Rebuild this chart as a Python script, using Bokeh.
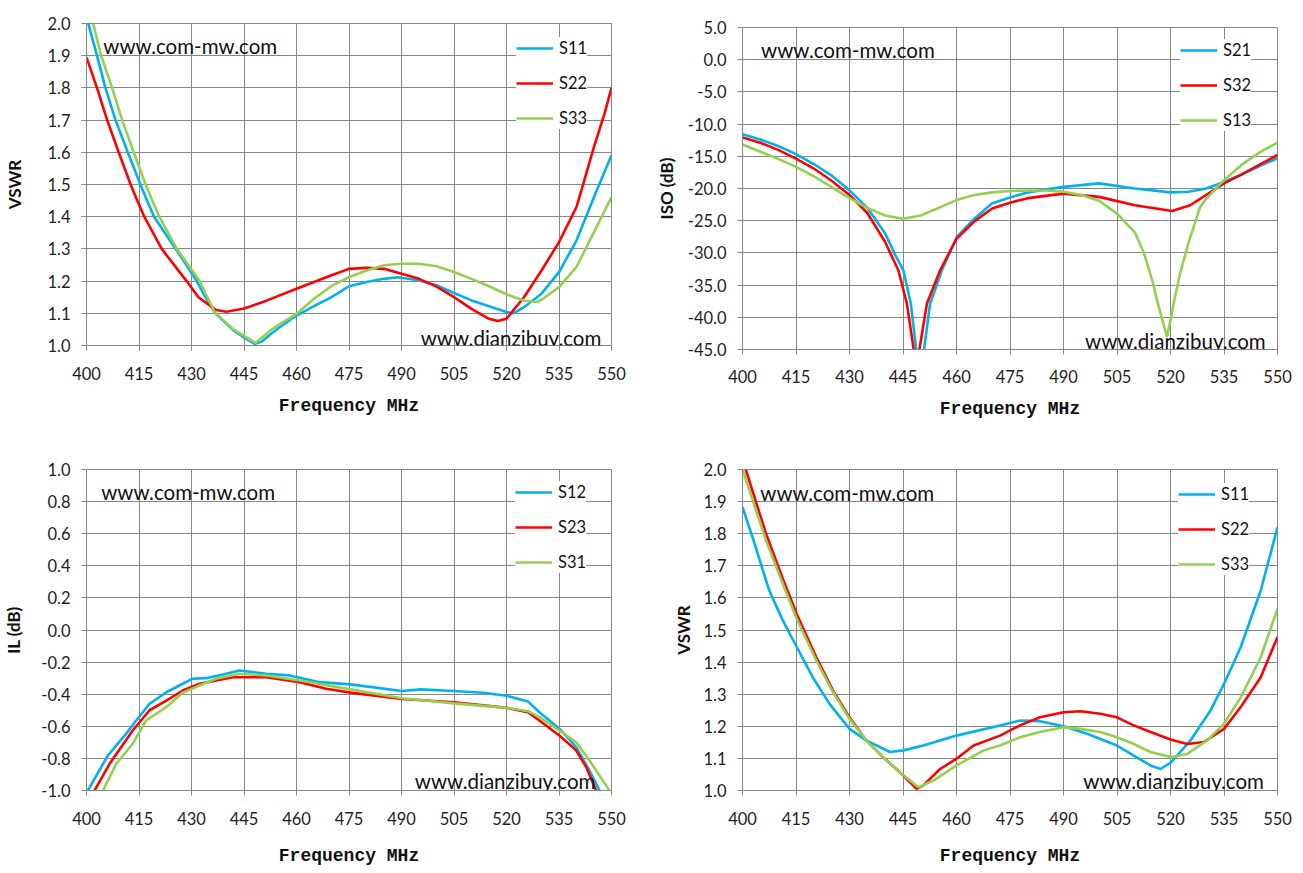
from bokeh.plotting import figure
from bokeh.layouts import column, row
from bokeh.models import (Range1d, FixedTicker, NumeralTickFormatter, Legend,
                          LegendItem, Label)
from bokeh.embed import file_html
from bokeh.resources import INLINE

# ---------------- tick labels ----------------
X_TICKS = [400, 415, 430, 445, 460, 475, 490, 505, 520, 535, 550]
VSWR_TICKS = [1.0, 1.1, 1.2, 1.3, 1.4, 1.5, 1.6, 1.7, 1.8, 1.9, 2.0]
ISO_TICKS = [-45, -40, -35, -30, -25, -20, -15, -10, -5, 0, 5]
IL_TICKS = [-1.0, -0.8, -0.6, -0.4, -0.2, 0.0, 0.2, 0.4, 0.6, 0.8, 1.0]

# ---------------- top-left: VSWR ----------------
TL_F_S11 = [400.5, 403, 405.4, 408.3, 411.8, 415.4, 417.3, 419.3, 425.5, 431.5, 434, 436.8,
            442, 445, 448, 450, 452.6, 455, 460, 465, 470, 475, 480, 485, 489, 495, 500,
            505, 510, 515, 520, 522, 525, 530, 535, 540, 545, 550]
TL_S11 = [2.0, 1.9, 1.8, 1.7, 1.6, 1.5, 1.45, 1.4, 1.3, 1.2, 1.15, 1.10,
          1.047, 1.025, 1.005, 1.012, 1.035, 1.055, 1.093, 1.122, 1.150, 1.184, 1.197, 1.207,
          1.212, 1.202, 1.187, 1.163, 1.140, 1.122, 1.104, 1.100, 1.119, 1.161, 1.228, 1.326,
          1.461, 1.591]
TL_F_S22 = [400, 403, 405.9, 409.2, 412.6, 414.5, 416.5, 421.5, 428.6, 432, 437, 440, 445,
            447, 451.6, 455, 460, 465, 470, 475, 480, 485, 490, 495, 500, 505, 510, 515,
            517.5, 520, 525, 530, 535, 540, 545, 548, 550]
TL_S22 = [1.895, 1.8, 1.7, 1.6, 1.5, 1.45, 1.4, 1.3, 1.2, 1.15, 1.11, 1.105, 1.115,
          1.122, 1.14, 1.155, 1.176, 1.197, 1.218, 1.238, 1.241, 1.238, 1.223, 1.207, 1.183,
          1.150, 1.114, 1.083, 1.076, 1.083, 1.150, 1.233, 1.321, 1.43, 1.617, 1.72, 1.80]
TL_F_S33 = [401.9, 404.2, 407.3, 410.2, 413.5, 416.9, 418.8, 420.8, 425.8, 432.3, 434.5,
            436.8, 442, 445, 448.3, 452.6, 455, 460, 465, 470, 475, 480, 485, 490, 495, 500,
            505, 510, 515, 520, 525, 528.4, 530, 535, 540, 545, 550]
TL_S33 = [2.0, 1.9, 1.8, 1.7, 1.6, 1.5, 1.45, 1.4, 1.3, 1.2, 1.15, 1.10,
          1.05, 1.03, 1.008, 1.047, 1.065, 1.098, 1.145, 1.185, 1.212, 1.233, 1.249, 1.254,
          1.254, 1.246, 1.228, 1.207, 1.184, 1.159, 1.140, 1.135, 1.142, 1.181, 1.244, 1.352,
          1.461]

# ---------------- top-right: isolation ----------------
TR_F_S21 = [400, 405, 410, 415, 420, 425, 430, 435, 440, 443, 445.1, 447.2, 448.7, 449.8,
            450.9, 452.6, 455.9, 460, 465, 470, 475, 480, 490, 500, 510, 520, 525, 530, 535,
            540, 545, 550]
TR_S21 = [-11.57, -12.4, -13.4, -14.67, -16.2, -18.0, -20.3, -23.0, -27.0, -30.5, -32.7,
          -37.9, -45.0, -60.0, -45.0, -37.9, -32.7, -27.6, -24.7, -22.3, -21.4, -20.6, -19.75,
          -19.2, -20.0, -20.6, -20.5, -20.0, -19.0, -17.8, -16.5, -15.3]
TR_F_S32 = [400, 405, 410, 415, 420, 425, 430, 435, 440, 443.7, 446.1, 448.0, 448.8, 449.6,
            451.7, 455.4, 460, 465, 470, 475, 480, 490, 500, 510, 520.5, 525.5, 532, 535, 540,
            545, 550]
TR_S32 = [-12.08, -12.9, -14.0, -15.35, -16.9, -18.8, -21.0, -23.8, -28.3, -32.7, -37.9,
          -45.0, -60.0, -45.0, -37.9, -32.7, -27.8, -25.1, -23.1, -22.2, -21.5, -20.8, -21.3,
          -22.6, -23.5, -22.6, -20.3, -19.2, -17.8, -16.3, -14.8]
TR_F_S13 = [400, 405, 410, 415, 420, 425, 430, 435, 440, 445, 450, 455, 460, 465, 470, 475,
            480, 485, 490, 495, 500, 505, 510, 512.6, 515, 516.2, 518, 519, 520, 521, 522.7,
            525, 528.3, 530, 535, 540, 545, 550]
TR_S13 = [-13.17, -14.3, -15.4, -16.64, -18.1, -19.8, -21.5, -23.0, -24.2, -24.7, -24.2,
          -23.0, -21.8, -21.0, -20.6, -20.4, -20.3, -20.3, -20.5, -21.0, -21.9, -23.9, -26.8,
          -30.1, -34.5, -37.3, -41.0, -43.0, -40.5, -37.5, -33.2, -28.5, -22.9, -21.6, -18.7,
          -16.3, -14.4, -12.86]

# ---------------- bottom-left: insertion loss ----------------
BL_F_S12 = [400.4, 406.1, 411.3, 414.2, 418, 422.8, 427.5, 430.2, 434.2, 439.9, 443.7,
            451.3, 458, 466.6, 475.4, 490.1, 495.4, 505.1, 513.2, 520.1, 526.1, 529.4, 535.1,
            539.9, 543.7, 546.6]
BL_S12 = [-1.0, -0.782, -0.647, -0.564, -0.46, -0.388, -0.335, -0.304, -0.30, -0.273,
          -0.252, -0.273, -0.283, -0.325, -0.339, -0.38, -0.37, -0.38, -0.391, -0.41, -0.445,
          -0.512, -0.615, -0.73, -0.876, -1.0]
BL_F_S23 = [402.3, 406.6, 413.2, 418, 422.8, 427.5, 432.3, 441.8, 451.3, 460.9, 468.5,
            475.4, 490.1, 505.1, 520.1, 526.1, 529.4, 535.1, 539.9, 542.8, 545.6]
BL_S23 = [-1.0, -0.834, -0.626, -0.50, -0.44, -0.377, -0.335, -0.294, -0.294, -0.325,
          -0.366, -0.39, -0.43, -0.45, -0.485, -0.512, -0.564, -0.657, -0.75, -0.855, -1.0]
BL_F_S31 = [404.7, 408.5, 413.2, 417, 422.8, 427.5, 432.3, 437, 443.7, 451.3, 460.9, 475.4,
            490.1, 505.1, 520.1, 526.1, 529.4, 535.1, 539.9, 543.7, 549.4]
BL_S31 = [-1.0, -0.834, -0.709, -0.564, -0.481, -0.39, -0.346, -0.304, -0.273, -0.283,
          -0.315, -0.37, -0.425, -0.457, -0.485, -0.506, -0.543, -0.626, -0.70, -0.813, -1.0]

# ---------------- bottom-right: VSWR ----------------
BR_F_S11 = [400, 402.8, 407.5, 411.3, 415.2, 419.7, 424.4, 430, 434.7, 441.3, 445.1, 450.7,
            460, 472.2, 477.8, 483.4, 490, 496.6, 505, 509.7, 514.4, 517.2, 520.2, 525.6,
            531.2, 535, 539.7, 545.3, 550]
BR_S11 = [1.883, 1.789, 1.623, 1.530, 1.447, 1.353, 1.27, 1.192, 1.156, 1.12, 1.125, 1.14,
          1.171, 1.2025, 1.218, 1.216, 1.20, 1.177, 1.14, 1.109, 1.078, 1.067, 1.088, 1.156,
          1.249, 1.332, 1.447, 1.623, 1.820]
BR_F_S22 = [400.9, 406.6, 411.3, 415.2, 420.7, 425.4, 430, 434.7, 439.4, 444.1, 448.8, 450.7,
            455.4, 460, 464.8, 472.2, 477.8, 483.4, 490, 494.7, 500.3, 505, 509.7, 514.4,
            520.2, 524.7, 529.4, 535, 539.7, 545.3, 550]
BR_S22 = [2.0, 1.80, 1.66, 1.55, 1.415, 1.311, 1.228, 1.156, 1.104, 1.057, 1.005, 1.016,
          1.067, 1.099, 1.14, 1.171, 1.203, 1.228, 1.244, 1.247, 1.239, 1.228, 1.203, 1.182,
          1.158, 1.145, 1.151, 1.192, 1.26, 1.353, 1.478]
BR_F_S33 = [400, 406.6, 411.3, 415.2, 420.7, 425.4, 430, 434.7, 439.4, 444.1, 449.3, 453.5,
            460, 467.6, 472.2, 477.8, 483.4, 490, 494.7, 500.3, 505, 509.7, 514.4, 520.2,
            524.7, 530.3, 535, 539.7, 545.3, 550]
BR_S33 = [2.0, 1.779, 1.644, 1.535, 1.405, 1.306, 1.223, 1.156, 1.104, 1.057, 1.01, 1.031,
          1.078, 1.125, 1.14, 1.166, 1.182, 1.197, 1.192, 1.182, 1.166, 1.145, 1.12, 1.104,
          1.114, 1.156, 1.208, 1.29, 1.415, 1.566]

BLUE, RED, GREEN = "#00B0F0", "#FF0000", "#92D050"
GRID = "#878787"
FONT = "Lato"


def make_panel(w, h, bl, br, bt, bb, yr, yticks, ylabel, ylab_standoff, xtick_standoff,
               xlab_standoff, series, legend_xy, wm1, wm2):
    p = figure(width=w, height=h, x_range=Range1d(400, 550), y_range=Range1d(*yr),
               output_backend="svg", toolbar_location=None, title=None,
               min_border_left=bl, min_border_right=br, min_border_top=bt,
               min_border_bottom=bb)
    p.background_fill_color = "white"
    p.border_fill_color = "white"
    p.outline_line_color = GRID
    for ax in (p.xaxis[0], p.yaxis[0]):
        ax.axis_line_color = GRID
        ax.major_tick_line_color = GRID
        ax.major_tick_in = 0
        ax.major_tick_out = 5
        ax.minor_tick_line_color = None
        ax.major_label_text_font = FONT
        ax.major_label_text_font_size = "16.5px"
        ax.major_label_text_color = "#1e1e1e"
    p.yaxis.major_label_standoff = 11
    p.xaxis.major_label_standoff = xtick_standoff
    p.xaxis.ticker = FixedTicker(ticks=X_TICKS)
    p.yaxis.ticker = FixedTicker(ticks=yticks)
    p.xgrid.ticker = FixedTicker(ticks=X_TICKS)
    p.ygrid.ticker = FixedTicker(ticks=yticks)
    p.yaxis.formatter = NumeralTickFormatter(format="0.0")
    for g in (p.xgrid[0], p.ygrid[0]):
        g.grid_line_color = GRID
        g.grid_line_width = 1

    p.xaxis.axis_label = "Frequency MHz"
    p.xaxis.axis_label_text_font = "Liberation Mono"
    p.xaxis.axis_label_text_font_style = "bold"
    p.xaxis.axis_label_text_font_size = "18px"
    p.xaxis.axis_label_text_color = "#111111"
    p.xaxis.axis_label_standoff = xlab_standoff

    p.yaxis.axis_label = ylabel
    p.yaxis.axis_label_text_font = FONT
    p.yaxis.axis_label_text_font_style = "bold"
    p.yaxis.axis_label_text_font_size = "17px"
    p.yaxis.axis_label_text_color = "#111111"
    p.yaxis.axis_label_standoff = ylab_standoff

    items = []
    for name, fx, fy, color in series:
        r = p.line(fx, fy, line_color=color, line_width=2.6)
        items.append(LegendItem(label=name, renderers=[r]))
    leg = Legend(items=items, location=legend_xy, padding=8, spacing=13, margin=0,
                 glyph_width=37, glyph_height=22, label_height=22, label_standoff=6,
                 label_text_font=FONT, label_text_font_size="16.5px",
                 label_text_color="#111111", border_line_color=None,
                 background_fill_color="white", background_fill_alpha=1.0)
    p.add_layout(leg)

    p.add_layout(Label(x=wm1[0], y=wm1[1], text="www.com-mw.com", text_font=FONT,
                       text_font_size="20.5px", text_align="left",
                       text_baseline="alphabetic", text_color="#111111"))
    p.add_layout(Label(x=wm2[0], y=wm2[1], text="www.dianzibuy.com", text_font=FONT,
                       text_font_size="20.5px", text_align="right",
                       text_baseline="alphabetic", text_color="#111111"))
    return p


p1 = make_panel(652, 445, 86, 41, 23, 100, (1.0, 2.0), VSWR_TICKS, "VSWR", 19, 16, 13,
                [("S11", TL_F_S11, TL_S11, BLUE), ("S22", TL_F_S22, TL_S22, RED),
                 ("S33", TL_F_S33, TL_S33, GREEN)],
                (430, 216), (404.8, 1.929), (547.1, 1.024))
p2 = make_panel(641, 445, 90, 16, 27, 96, (-45.0, 5.0), ISO_TICKS, "ISO (dB)", 8, 15, 13,
                [("S21", TR_F_S21, TR_S21, BLUE), ("S32", TR_F_S32, TR_S32, RED),
                 ("S13", TR_F_S13, TR_S13, GREEN)],
                (438, 218), (405.2, 1.58), (546.7, -43.66))
p3 = make_panel(652, 426, 86, 41, 24, 81, (-1.0, 1.0), IL_TICKS, "IL (dB)", 14, 16, 18,
                [("S12", BL_F_S12, BL_S12, BLUE), ("S23", BL_F_S23, BL_S23, RED),
                 ("S31", BL_F_S31, BL_S31, GREEN)],
                (429, 217), (404.2, 0.859), (545.4, -0.938))
p4 = make_panel(641, 426, 90, 16, 24, 81, (1.0, 2.0), VSWR_TICKS, "VSWR", 6, 16, 18,
                [("S11", BR_F_S11, BR_S11, BLUE), ("S22", BR_F_S22, BR_S22, RED),
                 ("S33", BR_F_S33, BR_S33, GREEN)],
                (436, 215), (405.0, 1.927), (546.2, 1.031))

layout = row(column(p1, p3), column(p2, p4))
open("out.html", "w").write(file_html(layout, INLINE))
